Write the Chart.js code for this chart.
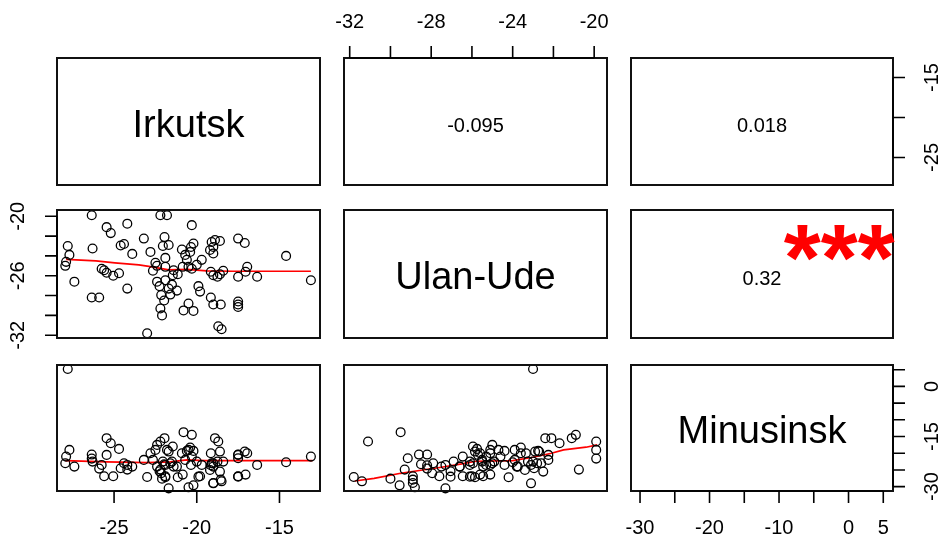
<!DOCTYPE html>
<html>
<head>
<meta charset="utf-8">
<title>Pairs</title>
<script src="https://cdn.jsdelivr.net/npm/chart.js@4.4.1/dist/chart.umd.min.js"></script>
<style>
  html, body { margin: 0; padding: 0; background: #fff; }
  #wrap { position: relative; width: 942px; height: 544px; }
  #wrap canvas { position: absolute; left: 0; top: 0; }
</style>
</head>
<body>
<div id="wrap"></div>
<script>
// one value per winter, same order in all three stations
const irkutsk = [
  -26.35, -22.2, -21.8, -25.45, -25.2, -24.2, -20.3, -27.8, -27.7, -27.9,
  -27.95, -26.3, -27.4, -25.75, -25.6, -25.45, -25.05, -24.7, -26.35, -25.9,
  -24.2, -24.6, -24.4, -23.9, -23.2, -22.8, -22.5, -22.4, -22.65, -22.4,
  -22.25, -22.15, -21.97, -22.2, -22.1, -23.0, -21.95, -22.05, -21.7, -21.9,
  -21.9, -21.7, -21.4, -21.45, -21.15, -21.2, -20.9, -20.7, -20.6, -20.5,
  -20.35, -20.2, -20.4, -20.8, -20.5, -20.2, -19.9, -19.8, -19.7, -19.1,
  -18.9, -18.6, -19.0, -19.2, -19.0, -19.15, -19.0, -18.75, -18.6, -18.4,
  -19.15, -19.0, -18.55, -18.7, -18.5, -17.5, -17.1, -17.5, -17.5, -17.5,
  -17.5, -16.95, -17.05, -16.35, -14.6, -13.1, -20.85, -20.3, -21.9, -20.0,
  -21.5, -21.6
];
const ulanUde = [
  -19.9, -19.9, -19.9, -21.1, -21.7, -20.75, -20.9, -23.0, -23.9, -24.6,
  -25.0, -23.25, -26.6, -25.3, -25.45, -25.7, -26.0, -25.75, -28.2, -28.2,
  -27.3, -22.95, -22.8, -23.8, -22.25, -23.6, -24.7, -25.0, -25.5, -26.6,
  -27.05, -27.95, -28.5, -29.3, -30.0, -31.8, -22.1, -23.0, -22.9, -24.2,
  -26.45, -27.3, -25.45, -25.95, -25.85, -27.5, -23.35, -23.9, -24.4, -25.1,
  -23.1, -22.75, -23.6, -29.5, -28.8, -29.55, -27.05, -27.6, -24.4, -22.6,
  -22.4, -22.5, -23.1, -23.4, -23.75, -25.6, -25.95, -26.1, -25.85, -25.5,
  -28.2, -28.9, -28.9, -31.1, -31.4, -22.25, -22.7, -26.1, -28.6, -28.9,
  -29.15, -25.1, -25.6, -26.1, -24.0, -26.45, -25.1, -25.3, -25.1, -24.9,
  -26.9, -27.9
];
const minusinsk = [
  -21.6, -16.5, -19.0, -15.5, -17.0, -24.9, -14.5, 5.2, -19.0, -21.0,
  -23.0, -22.5, -24.0, -23.5, -26.9, -20.5, -26.9, -18.7, -20.4, -24.6,
  -23.5, -24.5, -23.0, -24.0, -22.0, -20.0, -19.0, -17.5, -22.0, -24.0,
  -25.4, -26.0, -23.3, -24.9, -27.6, -27.1, -15.5, -22.5, -19.5, -27.2,
  -26.9, -30.5, -24.0, -18.0, -27.2, -24.0, -20.0, -22.0, -19.3, -19.0,
  -23.5, -19.3, -18.3, -13.7, -30.2, -29.6, -27.0, -26.9, -23.5, -23.0,
  -15.5, -25.5, -29.0, -25.0, -24.0, -20.0, -23.0, -22.5, -19.5, -22.5,
  -23.6, -28.9, -27.9, -16.5, -28.4, -20.5, -19.5, -27.0, -20.4, -26.9,
  -21.5, -20.0, -26.4, -23.5, -22.7, -21.0, -26.4, -21.0, -23.5, -22.5,
  -22.5, -23.0
];

const stationNames = ["Irkutsk", "Ulan-Ude", "Minusinsk"];

// correlations for the upper panels, keyed "row,col"
const corrLabels = { "0,1": "-0.095", "0,2": "0.018", "1,2": "0.32" };
const corrStars = { "1,2": "***" };

// smoothed fits for the lower panels
const smoothIrkUlanX = [-27.9, -26.1, -24.95, -23.5, -22.7, -21.7, -20.6, -19.4, -17.8, -13.1];
const smoothIrkUlanY = [-24.35, -24.5, -24.7, -24.9, -25.1, -25.4, -25.35, -25.5, -25.55, -25.55];
const smoothIrkMinX = [-27.95, -25.5, -23.0, -21.6, -20.6, -19.5, -13.0];
const smoothIrkMinY = [-22.2, -22.6, -22.8, -22.6, -22.0, -22.2, -22.2];
const smoothUlanMinX = [-31.75, -30.8, -29.5, -28.5, -27.5, -26.5, -25.8, -24.0, -23.0, -22.1, -21.5, -20.4, -19.85];
const smoothUlanMinY = [-28.3, -27.5, -26.0, -25.1, -24.2, -23.2, -22.4, -22.2, -21.2, -20.0, -19.0, -18.2, -17.5];

// axis limits and ticks per station
const axisLimits = [[-28.45, -12.55], [-32.28, -19.37], [-31.3, 6.4]];
const irkutskTicks = [-25, -20, -15];
const ulanUdeTicks = [-32, -30, -28, -26, -24, -22, -20];
const minusinskTicks = [-30, -25, -20, -15, -10, -5, 0, 5];
const irkutskBottomLabels = [-25, -20, -15];
const irkutskRightLabels = [-25, -15];
const ulanUdeTopLabels = [-32, -28, -24, -20];
const ulanUdeLeftLabels = [-32, -26, -20];
const minusinskBottomLabels = [-30, -20, -10, 0, 5];
const minusinskRightLabels = [-30, -15, 0];

const W = 942, H = 544;
const colEdges = [[57, 320], [344, 607], [631, 893]];
const rowEdges = [[58, 185], [210, 338], [365, 491]];
const FONT = "'Liberation Sans', Arial, sans-serif";
const TICK = 12;

const series = [irkutsk, ulanUde, minusinsk];
const tickSets = [irkutskTicks, ulanUdeTicks, minusinskTicks];

// which outer axes each panel carries
const outerAxes = {
  "0,1": [["top", ulanUdeTopLabels]],
  "0,2": [["right", irkutskRightLabels]],
  "1,0": [["left", ulanUdeLeftLabels]],
  "2,0": [["bottom", irkutskBottomLabels]],
  "2,2": [["bottom", minusinskBottomLabels], ["right", minusinskRightLabels]],
};

const smoothLines = {
  "1,0": [smoothIrkUlanX, smoothIrkUlanY],
  "2,0": [smoothIrkMinX, smoothIrkMinY],
  "2,1": [smoothUlanMinX, smoothUlanMinY],
};

function zipPoints(xs, ys) {
  return xs.map((x, i) => ({ x, y: ys[i] }));
}

function drawAxis(ctx, chart, side, ticks, labels) {
  const area = chart.chartArea;
  const horizontal = side === "top" || side === "bottom";
  const scale = horizontal ? chart.scales.x : chart.scales.y;
  const pos = ticks.map((v) => scale.getPixelForValue(v));

  ctx.save();
  ctx.strokeStyle = "#000";
  ctx.lineWidth = 1.6;
  ctx.fillStyle = "#000";
  ctx.font = `20px ${FONT}`;
  ctx.textAlign = "center";
  ctx.textBaseline = "middle";
  ctx.beginPath();

  if (horizontal) {
    const y0 = side === "bottom" ? area.bottom : area.top;
    const dir = side === "bottom" ? 1 : -1;
    ctx.moveTo(pos[0], y0);
    ctx.lineTo(pos[pos.length - 1], y0);
    pos.forEach((p) => {
      ctx.moveTo(p, y0);
      ctx.lineTo(p, y0 + dir * TICK);
    });
    ctx.stroke();
    const off = side === "bottom" ? 37 : 36;
    labels.forEach((v) => {
      ctx.fillText(String(v), scale.getPixelForValue(v), y0 + dir * off);
    });
  } else {
    const x0 = side === "left" ? area.left : area.right;
    const dir = side === "left" ? -1 : 1;
    ctx.moveTo(x0, pos[0]);
    ctx.lineTo(x0, pos[pos.length - 1]);
    pos.forEach((p) => {
      ctx.moveTo(x0, p);
      ctx.lineTo(x0 + dir * TICK, p);
    });
    ctx.stroke();
    labels.forEach((v) => {
      ctx.save();
      ctx.translate(x0 + dir * 39, scale.getPixelForValue(v));
      ctx.rotate(-Math.PI / 2);
      ctx.fillText(String(v), 0, 0);
      ctx.restore();
    });
  }
  ctx.restore();
}

const pairFrame = {
  id: "pairFrame",
  afterDraw(chart, args, opts) {
    const { ctx, chartArea: a } = chart;
    const key = `${opts.row},${opts.col}`;

    ctx.save();
    ctx.strokeStyle = "#111";
    ctx.lineWidth = 2;
    ctx.strokeRect(a.left, a.top, a.right - a.left, a.bottom - a.top);

    const cx = (a.left + a.right) / 2;
    const cy = (a.top + a.bottom) / 2;
    ctx.fillStyle = "#000";
    ctx.textAlign = "center";
    ctx.textBaseline = "middle";

    if (opts.row === opts.col) {
      ctx.font = `38px ${FONT}`;
      ctx.fillText(stationNames[opts.row], cx, cy + 5);
    }
    if (corrLabels[key]) {
      ctx.font = `20px ${FONT}`;
      ctx.fillText(corrLabels[key], cx, cy + 5);
    }
    if (corrStars[key]) {
      ctx.fillStyle = "#ff0000";
      ctx.font = `bold 95px ${FONT}`;
      ctx.textBaseline = "alphabetic";
      ctx.fillText(corrStars[key], a.left + 0.795 * (a.right - a.left), a.top + 80);
    }
    ctx.restore();

    (outerAxes[key] || []).forEach(([side, labels]) => {
      const ticks = side === "top" || side === "bottom" ? tickSets[opts.col] : tickSets[opts.row];
      drawAxis(ctx, chart, side, ticks, labels);
    });
  },
};

const wrap = document.getElementById("wrap");

function panelChart(row, col) {
  const [x0, x1] = colEdges[col];
  const [y0, y1] = rowEdges[row];
  const key = `${row},${col}`;

  const canvas = document.createElement("canvas");
  canvas.width = W;
  canvas.height = H;
  canvas.style.width = W + "px";
  canvas.style.height = H + "px";
  wrap.appendChild(canvas);

  const datasets = [];
  if (row > col) {
    datasets.push({
      type: "scatter",
      data: zipPoints(series[col], series[row]),
      pointStyle: "circle",
      pointRadius: 4.4,
      pointBorderWidth: 1.3,
      pointBorderColor: "#000",
      pointBackgroundColor: "rgba(0,0,0,0)",
      clip: false,
    });
  }
  if (smoothLines[key]) {
    const [sx, sy] = smoothLines[key];
    datasets.push({
      type: "line",
      data: zipPoints(sx, sy),
      borderColor: "#ff0000",
      borderWidth: 1.7,
      pointRadius: 0,
      fill: false,
      tension: 0,
      clip: false,
    });
  }

  return new Chart(canvas, {
    type: "scatter",
    data: { datasets },
    options: {
      responsive: false,
      animation: false,
      devicePixelRatio: 1,
      events: [],
      layout: { padding: { left: x0, right: W - x1, top: y0, bottom: H - y1 } },
      scales: {
        x: { type: "linear", min: axisLimits[col][0], max: axisLimits[col][1], display: false },
        y: { type: "linear", min: axisLimits[row][0], max: axisLimits[row][1], display: false },
      },
      plugins: {
        legend: { display: false },
        tooltip: { enabled: false },
        pairFrame: { row, col },
      },
    },
    plugins: [pairFrame],
  });
}

for (let r = 0; r < 3; r++) {
  for (let c = 0; c < 3; c++) {
    panelChart(r, c);
  }
}
</script>
</body>
</html>
